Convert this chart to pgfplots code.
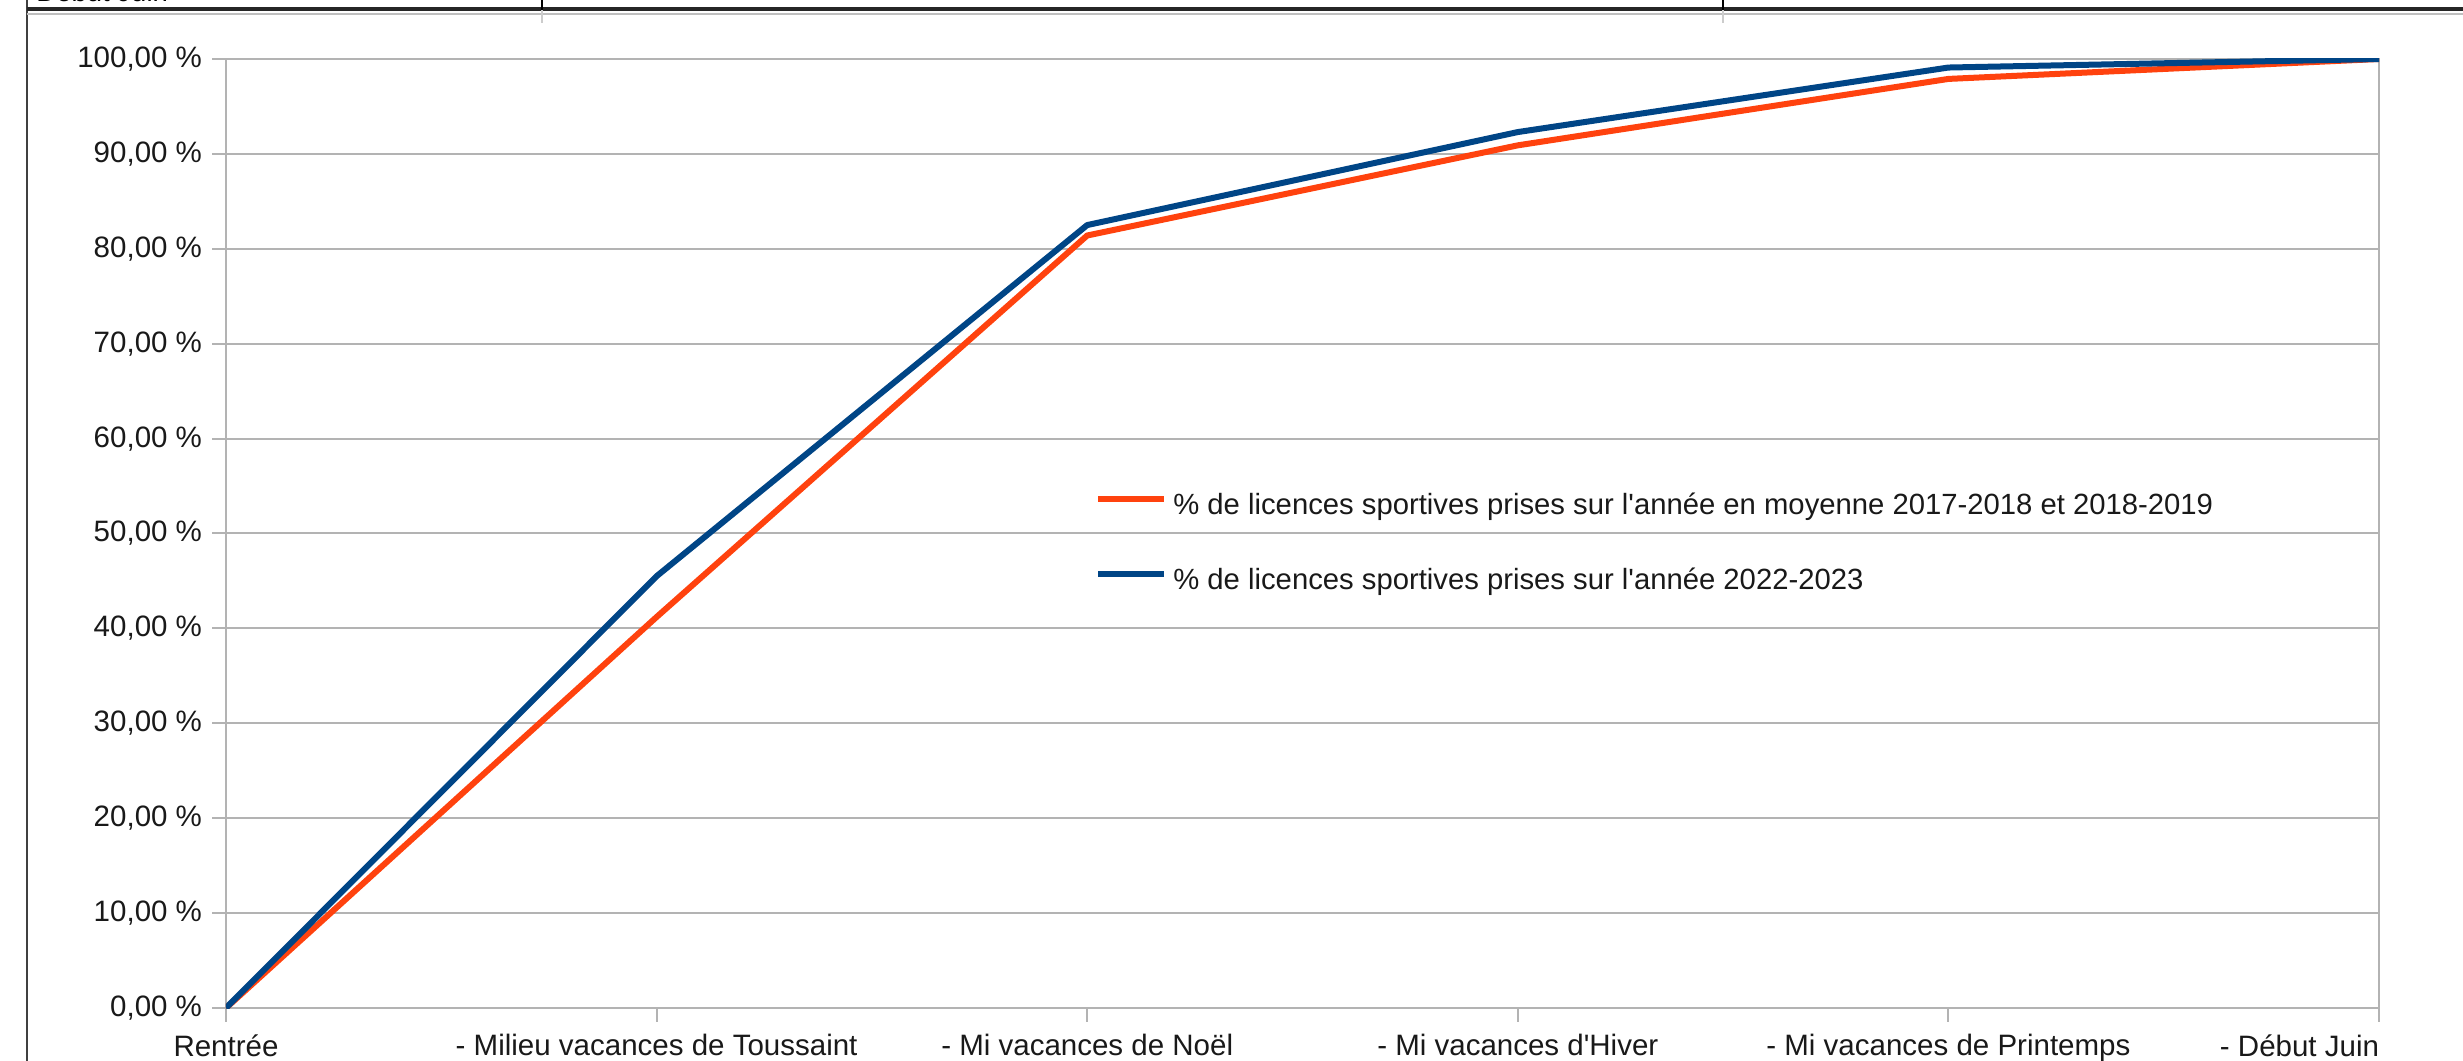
\documentclass[border=0pt]{standalone}
\usepackage{fontspec}
\setmainfont{Liberation Sans}
\usepackage{pgfplots}
\pgfplotsset{compat=1.18}
\definecolor{lblue}{HTML}{004586}
\definecolor{lorange}{HTML}{FF420E}
\definecolor{gridgray}{HTML}{B3B3B3}
\begin{document}
\begin{tikzpicture}
\useasboundingbox (-90.4bp,-21.2bp) rectangle (894.8bp,403.2bp);
\fill[white] (-90.4bp,-21.2bp) rectangle (894.8bp,403.2bp);
\begin{axis}[
  at={(0,0)}, anchor=south west,
  scale only axis, width=861.2bp, height=379.6bp,
  xmin=0, xmax=5, ymin=0, ymax=100,
  xtick={0,1,2,3,4,5},
  xticklabels={Rentrée, - Milieu vacances de Toussaint, - Mi vacances de Noël, - Mi vacances d\textquotesingle Hiver, - Mi vacances de Printemps, \makebox[0pt][r]{- Début Juin}},
  ytick={0,10,...,100},
  yticklabels={{0,00 \%},{10,00 \%},{20,00 \%},{30,00 \%},{40,00 \%},{50,00 \%},{60,00 \%},{70,00 \%},{80,00 \%},{90,00 \%},{100,00 \%}},
  ymajorgrids, grid style={gridgray, line width=0.8bp},
  axis line style={gridgray, line width=0.8bp},
  tick style={gridgray, line width=0.8bp},
  tick align=outside, major tick length=5.4bp,
  xtick pos=lower, ytick pos=left,
  tick label style={font=\fontsize{11.8bp}{14bp}\selectfont, text=black!90},
  xticklabel style={anchor=north, inner sep=0pt, yshift=-5bp},
  yticklabel style={anchor=east, inner sep=0pt, xshift=-4bp},
  legend style={draw=none, fill=none, inner sep=0pt, outer sep=0pt,
    at={(0.4038,0.4884)}, anchor=west,
    font=\fontsize{11.7bp}{14bp}\selectfont, text=black!90,
    row sep=19bp, column sep=2.4bp,
    nodes={inner sep=0pt, text height=8.5bp, text depth=2.5bp}},
  legend cell align=left,
  legend image code/.code={\draw[#1, line width=2.4bp, line cap=butt] (0bp,3.2bp) -- (26.4bp,3.2bp);},
]
\addplot[lorange, line width=2.4bp, line join=round] coordinates {(0,0) (1,41.2) (2,81.4) (3,90.9) (4,97.9) (5,100)};
\addlegendentry{\% de licences sportives prises sur l\textquotesingle année en moyenne 2017-2018 et 2018-2019}
\addplot[lblue, line width=2.4bp, line join=round] coordinates {(0,0) (1,45.5) (2,82.5) (3,92.3) (4,99.1) (5,100)};
\addlegendentry{\% de licences sportives prises sur l\textquotesingle année 2022-2023}
\end{axis}
\draw[line width=0.8bp, black!75] (-79.6bp,-21.2bp) -- (-79.6bp,403.2bp);
\draw[line width=0.8bp, black!25] (-79.6bp,397.6bp) -- (894.8bp,397.6bp);
\draw[line width=1.6bp, black!85] (-79.6bp,399.4bp) -- (894.8bp,399.4bp);
\draw[line width=0.5bp, black] (126.4bp,399.2bp) -- (126.4bp,403.2bp);
\draw[line width=0.5bp, black!20] (126.4bp,399.2bp) -- (126.4bp,394bp);
\draw[line width=0.5bp, black] (598.8bp,399.2bp) -- (598.8bp,403.2bp);
\draw[line width=0.5bp, black!20] (598.8bp,399.2bp) -- (598.8bp,394bp);
\node[anchor=base west, inner sep=0pt, font=\fontsize{11bp}{13bp}\selectfont] at (-76bp,402.6bp) {Début Juin};
\end{tikzpicture}
\end{document}
